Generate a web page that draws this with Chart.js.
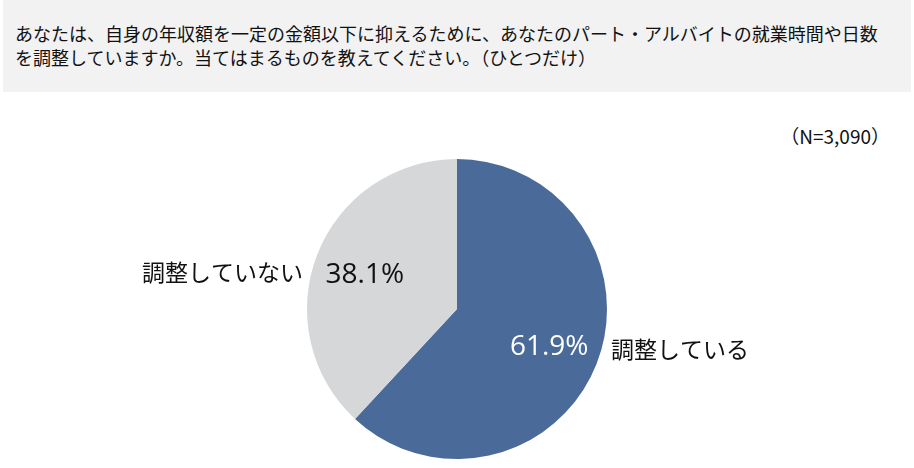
<!DOCTYPE html>
<html lang="ja">
<head>
<meta charset="utf-8">
<script src="https://cdn.jsdelivr.net/npm/chart.js@4/dist/chart.umd.min.js"></script>
<style>
  html, body { margin: 0; padding: 0; background: #fff; }
  body { width: 914px; height: 468px; position: relative; overflow: hidden;
         font-family: "Noto Sans CJK JP", "Noto Sans", sans-serif; color: #111; }
  .question { position: absolute; left: 3px; top: 0; width: 908px; height: 92px; background: #f2f2f2; }
  .question p { margin: 0; position: absolute; left: 12px; top: 21px; font-size: 18px; line-height: 24px; }
  .sample { position: absolute; right: 24px; top: 122px; font-size: 19px; }
  #chart-wrap { position: absolute; left: 0; top: 0; width: 914px; height: 468px; }
</style>
</head>
<body>
<div class="question"><p>あなたは、自身の年収額を一定の金額以下に抑えるために、あなたのパート・アルバイトの就業時間や日数<br>を調整していますか。当てはまるものを教えてください。（ひとつだけ）</p></div>
<div class="sample">（N=3,090）</div>
<div id="chart-wrap"><canvas id="chart-pie"></canvas></div>
<script>
// answers and shares (%)
const categories = ['調整している', '調整していない'];
const shares = [61.9, 38.1];
const sliceColors = ['#4a6b9a', '#d6d7d9'];
const valueColors = ['#ffffff', '#111111'];

// percentage inside the slice, category name just outside the rim
const sliceLabels = {
  id: 'sliceLabels',
  afterDatasetsDraw(chart) {
    const ctx = chart.ctx;
    const arcs = chart.getDatasetMeta(0).data;
    ctx.save();
    ctx.textBaseline = 'middle';
    arcs.forEach((arc, i) => {
      const mid = (arc.startAngle + arc.endAngle) / 2;
      const r = arc.outerRadius;
      const ix = arc.x + Math.cos(mid) * r * 0.66;
      const iy = arc.y + Math.sin(mid) * r * 0.66;
      ctx.font = '28px "Open Sans", "Noto Sans", sans-serif';
      ctx.fillStyle = valueColors[i];
      ctx.textAlign = 'center';
      ctx.fillText(shares[i].toFixed(1) + '%', ix, iy + 2);

      const right = Math.cos(mid) >= 0;
      const ox = arc.x + (right ? 1 : -1) * (r + 4);
      ctx.font = '23px "Noto Sans CJK JP", sans-serif';
      ctx.fillStyle = '#111';
      ctx.textAlign = right ? 'left' : 'right';
      ctx.fillText(categories[i], ox, iy + (right ? 4 : -1));
    });
    ctx.restore();
  }
};

new Chart(document.getElementById('chart-pie'), {
  type: 'pie',
  data: {
    labels: categories,
    datasets: [{
      data: shares,
      backgroundColor: sliceColors,
      borderWidth: 0,
      hoverOffset: 0
    }]
  },
  options: {
    responsive: true,
    maintainAspectRatio: false,
    animation: false,
    layout: { padding: { top: 159, bottom: 9 } },
    plugins: {
      legend: { display: false },
      tooltip: { enabled: false }
    }
  },
  plugins: [sliceLabels]
});
</script>
</body>
</html>
